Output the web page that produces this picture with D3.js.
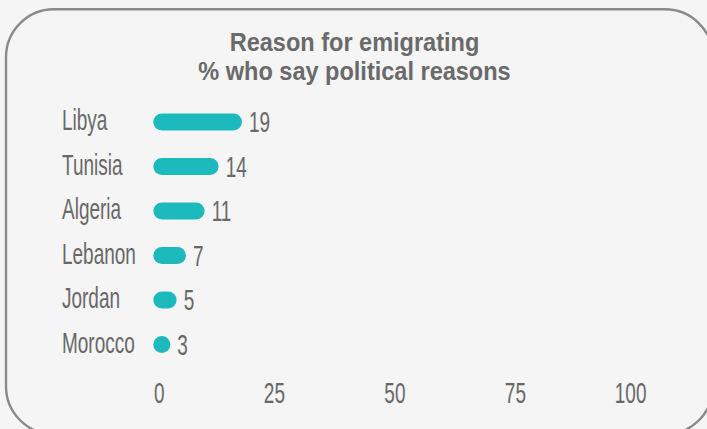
<!DOCTYPE html>
<meta charset="utf-8">
<script src="https://cdn.jsdelivr.net/npm/d3@7"></script>
<style>
	body{
		margin:0;
		background:#f5f5f5;
	}
	svg{
		display:block;
	}
	.lbl{
		font-family:"Liberation Sans", Arial, sans-serif;
		font-size:29px;
		fill:#686868;
	}
	.title{
		font-family:"Liberation Sans", Arial, sans-serif;
		font-size:26px;
		font-weight:bold;
		fill:#6a6a6a;
	}
</style>
<div id="chart"></div>
<script>
// data
var countries = ["Libya","Tunisia","Algeria","Lebanon","Jordan","Morocco"]
var values = [19,14,11,7,5,3]
var tickValues = [0,25,50,75,100]
var titleLines = ["Reason for emigrating","% who say political reasons"]

var w = 707
var h = 429
var barH = 17
var narrow = 0.655   // squeeze regular text to look like a condensed face

var svg = d3.select("#chart").append("svg").attr("width",w).attr("height",h)

// rounded frame, runs off the right and bottom edges
svg.append("rect")
	.attr("x",6).attr("y",9.3)
	.attr("width",707).attr("height",425)
	.attr("rx",48).attr("ry",48)
	.attr("fill","#f5f5f5")
	.attr("stroke","#8a8a8a")
	.attr("stroke-width",2.4)

// title
svg.selectAll(".titleLine")
	.data(titleLines)
	.join("g")
	.attr("class","titleLine")
	.attr("transform",function(d,i){ return "translate(354.5,"+(51+i*29)+") scale(0.905,1)" })
	.append("text")
	.attr("class","title")
	.attr("text-anchor","middle")
	.text(function(d){ return d })

var x = d3.scaleLinear().domain([0,100]).range([153.3,620])
var y = d3.scalePoint().domain(countries).range([122,344.5])
var tickX = d3.scaleLinear().domain([0,100]).range([164.5,646.5])

var rows = svg.selectAll(".row")
	.data(countries)
	.join("g")
	.attr("class","row")

// bars with round caps, never narrower than they are tall
rows.append("rect")
	.attr("x",x(0))
	.attr("y",function(d){ return y(d)-barH/2 })
	.attr("height",barH)
	.attr("width",function(d,i){ return Math.max(barH, x(values[i])-x(0)) })
	.attr("rx",barH/2).attr("ry",barH/2)
	.attr("fill","#1dbabd")

// country names
rows.append("g")
	.attr("transform",function(d){ return "translate(62,"+(y(d)+8)+") scale("+narrow+",1)" })
	.append("text")
	.attr("class","lbl")
	.text(function(d){ return d })

// value labels
rows.append("g")
	.attr("transform",function(d,i){
		var end = x(0)+Math.max(barH, x(values[i])-x(0))
		return "translate("+(end+7)+","+(y(d)+10)+") scale("+narrow+",1)"
	})
	.append("text")
	.attr("class","lbl")
	.text(function(d,i){ return values[i] })

// axis labels
svg.selectAll(".tick")
	.data(tickValues)
	.join("g")
	.attr("class","tick")
	.attr("transform",function(d){ return "translate("+tickX(d)+",403) scale("+narrow+",1)" })
	.append("text")
	.attr("class","lbl")
	.attr("text-anchor","end")
	.text(function(d){ return d })
</script>
